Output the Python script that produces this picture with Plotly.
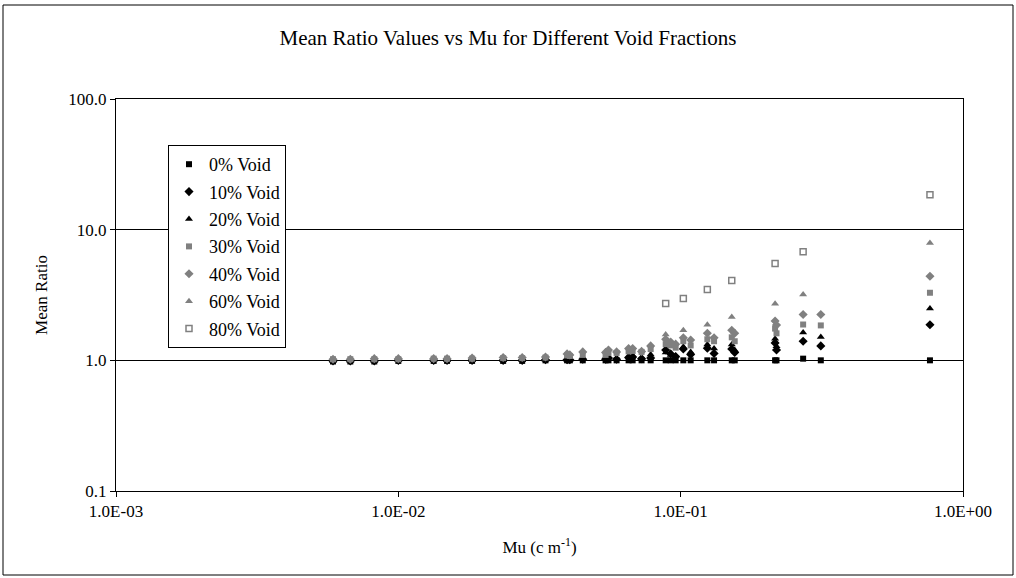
import plotly.graph_objects as go

# ---- data ----
mu_main = [0.00587, 0.00676, 0.00822, 0.0100, 0.01334, 0.01488, 0.01825, 0.02351,
           0.02746, 0.03321, 0.0396, 0.0405, 0.0450, 0.0542, 0.0555, 0.0593,
           0.0654, 0.0676, 0.0727, 0.0783, 0.0885, 0.0922, 0.0960, 0.1022,
           0.1085, 0.1243, 0.1313, 0.1517, 0.1554, 0.2160, 0.2185, 0.2715,
           0.3136, 0.7638]

void_0 = [0.98, 0.98, 0.98, 0.99, 0.99, 0.99, 0.99, 0.99,
          0.99, 1.00, 1.00, 1.00, 1.00, 1.00, 1.00, 1.00,
          1.00, 1.00, 1.00, 1.00, 1.00, 1.00, 1.00, 1.00,
          1.00, 1.00, 1.00, 1.00, 1.00, 1.00, 1.00, 1.03,
          1.00, 1.00]

void_10 = [0.99, 0.99, 0.99, 1.00, 1.00, 1.00, 1.00, 1.00,
           1.00, 1.01, 1.01, 1.01, 1.02, 1.02, 1.04, 1.02,
           1.05, 1.06, 1.03, 1.04, 1.20, 1.12, 1.07, 1.22,
           1.11, 1.24, 1.13, 1.22, 1.15, 1.36, 1.20, 1.40,
           1.29, 1.87]

void_20 = [0.99, 0.99, 0.99, 1.00, 1.00, 1.00, 1.00, 1.00,
           1.00, 1.01, 1.01, 1.01, 1.03, 1.02, 1.05, 1.03,
           1.07, 1.09, 1.04, 1.11, 1.15, 1.10, 1.08, 1.27,
           1.16, 1.32, 1.23, 1.32, 1.20, 1.46, 1.28, 1.63,
           1.51, 2.49]

void_30 = [1.02, 1.02, 1.02, 1.02, 1.03, 1.03, 1.03, 1.04,
           1.04, 1.05, 1.09, 1.08, 1.10, 1.10, 1.14, 1.14,
           1.17, 1.18, 1.16, 1.22, 1.33, 1.30, 1.25, 1.40,
           1.30, 1.45, 1.40, 1.50, 1.40, 1.75, 1.61, 1.88,
           1.85, 3.29]

void_40 = [1.02, 1.02, 1.03, 1.03, 1.03, 1.03, 1.04, 1.05,
           1.05, 1.06, 1.12, 1.10, 1.16, 1.15, 1.20, 1.16,
           1.23, 1.23, 1.17, 1.29, 1.45, 1.38, 1.33, 1.49,
           1.43, 1.61, 1.49, 1.70, 1.61, 2.00, 1.86, 2.24,
           2.24, 4.40]

mu_high = [0.0885, 0.1022, 0.1243, 0.1517, 0.2160, 0.2715, 0.7638]
void_60 = [1.58, 1.70, 1.87, 2.15, 2.71, 3.19, 7.91]
void_80 = [2.72, 2.97, 3.48, 4.08, 5.50, 6.79, 18.5]

series_names = ["0% Void", "10% Void", "20% Void", "30% Void",
                "40% Void", "60% Void", "80% Void"]

x_tickvals = [0.001, 0.01, 0.1, 1.0]
x_ticktext = ["1.0E-03", "1.0E-02", "1.0E-01", "1.0E+00"]
y_tickvals = [0.1, 1.0, 10.0, 100.0]
y_ticktext = ["0.1", "1.0", "10.0", "100.0"]

FONT = "Liberation Serif"
GRAY = "#808080"

styles = [
    dict(symbol="square", color="black", size=6),
    dict(symbol="diamond", color="black", size=7),
    dict(symbol="triangle-up", color="black", size=7),
    dict(symbol="square", color=GRAY, size=6),
    dict(symbol="diamond", color=GRAY, size=7),
    dict(symbol="triangle-up", color=GRAY, size=7),
    dict(symbol="square-open", color=GRAY, size=6),
]
xs = [mu_main] * 5 + [mu_high] * 2
ys = [void_0, void_10, void_20, void_30, void_40, void_60, void_80]

fig = go.Figure()
for name, x, y, st in zip(series_names, xs, ys, styles):
    fig.add_trace(go.Scatter(
        x=x, y=y, mode="markers", name=name, legendgroup=name,
        marker=dict(symbol=st["symbol"], color=st["color"], size=st["size"],
                    line=dict(width=1.5 if st["symbol"] == "square-open" else 0,
                              color=st["color"])),
    ))

fig.update_layout(
    width=1016, height=578,
    paper_bgcolor="white", plot_bgcolor="white",
    margin=dict(l=116, r=53, t=99, b=87),
    font=dict(family=FONT, size=16, color="black"),
    title=dict(text="Mean Ratio Values vs Mu for Different Void Fractions",
               x=0.5, xanchor="center", y=1 - 38 / 578, yanchor="middle",
               font=dict(family=FONT, size=21, color="black")),
    showlegend=True,
    legend=dict(x=(168 - 116) / 847, y=(491 - 145) / 392, xanchor="left", yanchor="top",
                bgcolor="white", bordercolor="black", borderwidth=1,
                font=dict(family=FONT, size=18, color="black"),
                tracegroupgap=1, itemwidth=30),
    xaxis=dict(type="log", range=[-3, 0], tickvals=x_tickvals, ticktext=x_ticktext,
               showgrid=False, zeroline=False, showline=True, linecolor="black",
               linewidth=1, mirror=True, ticks="outside", ticklen=5,
               tickcolor="black", tickfont=dict(family=FONT, size=17),
               title=dict(text="Mu (c m<sup>-1</sup>)", font=dict(family=FONT, size=17),
                          standoff=20)),
    yaxis=dict(type="log", range=[-1, 2], tickvals=y_tickvals, ticktext=y_ticktext,
               showgrid=True, gridcolor="black", gridwidth=1, zeroline=False,
               showline=True, linecolor="black", linewidth=1, mirror=True,
               ticks="outside", ticklen=5, tickcolor="black",
               tickfont=dict(family=FONT, size=17),
               title=dict(text="Mean Ratio", font=dict(family=FONT, size=17),
                          standoff=16)),
)

# outer chart border
fig.add_shape(type="rect", xref="paper", yref="paper",
              x0=(3 - 116) / 847, x1=(1013 - 116) / 847,
              y0=(491 - 575) / 392, y1=(491 - 5) / 392,
              line=dict(color="black", width=1), fillcolor="rgba(0,0,0,0)",
              layer="below")

fig.write_html("out.html", config={"displayModeBar": False},
               post_script="document.body.style.margin='0';")
